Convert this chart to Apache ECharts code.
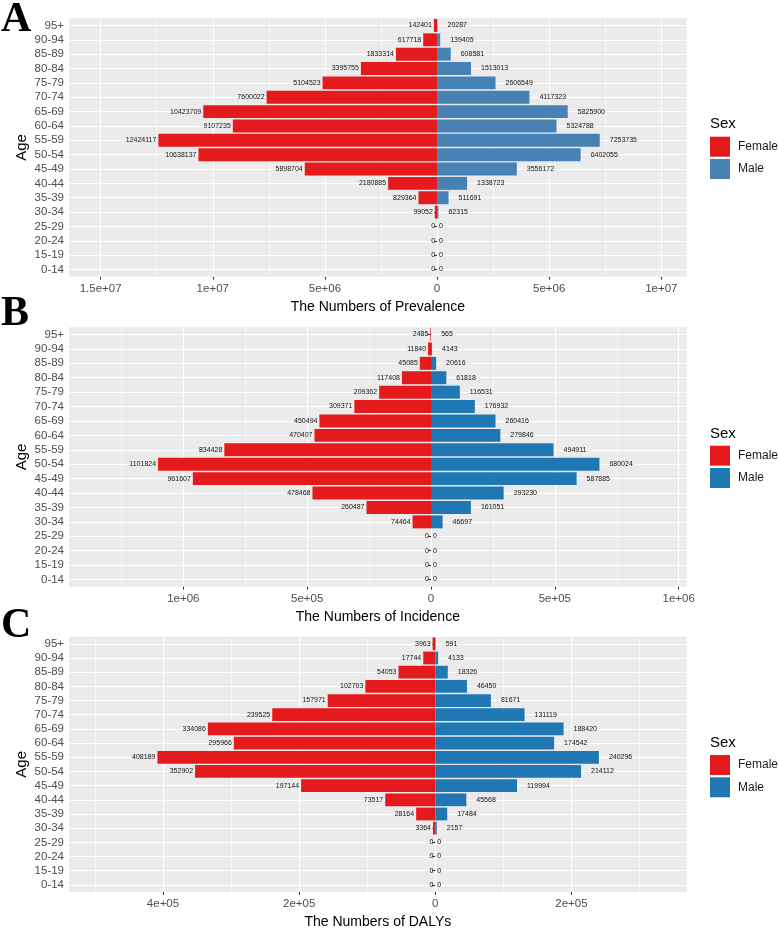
<!DOCTYPE html>
<html><head><meta charset="utf-8">
<script src="https://cdn.jsdelivr.net/npm/echarts@6/dist/echarts.min.js"></script>
<style>html,body{margin:0;padding:0;background:#fff}#c{width:778px;height:930px}</style>
</head><body><div id="c"></div>
<script>
// ---- data (rows listed top to bottom as in the figure) ----
const ages = ['95+','90-94','85-89','80-84','75-79','70-74','65-69','60-64','55-59','50-54','45-49','40-44','35-39','30-34','25-29','20-24','15-19','0-14'];
const prevFemale = [142401,617718,1833314,3395755,5104523,7600022,10423709,9107235,12424117,10638137,5898704,2180885,829364,99052,0,0,0,0];
const prevMale   = [20287,139405,608581,1513013,2606549,4117323,5825900,5324788,7253735,6402055,3556172,1338723,511691,62315,0,0,0,0];
const incFemale  = [2485,11840,45085,117408,209362,309371,450494,470407,834428,1101824,961607,478468,260487,74464,0,0,0,0];
const incMale    = [565,4143,20616,61818,116531,176932,260416,279846,494911,680024,587885,293230,161051,46697,0,0,0,0];
const dalyFemale = [3963,17744,54053,102703,157971,239525,334086,295966,408189,352902,197144,73517,28164,3364,0,0,0,0];
const dalyMale   = [591,4133,18326,46450,81671,131119,188420,174542,240296,214112,119994,45568,17484,2157,0,0,0,0];
const prevTicks  = [-1.5e7,-1e7,-5e6,0,5e6,1e7];
const prevMinor  = [-1.25e7,-7.5e6,-2.5e6,2.5e6,7.5e6];
const incTicks   = [-1e6,-5e5,0,5e5,1e6];
const incMinor   = [-1.25e6,-7.5e5,-2.5e5,2.5e5,7.5e5];
const dalyTicks  = [-4e5,-2e5,0,2e5];
const dalyMinor  = [-5e5,-3e5,-1e5,1e5,3e5];
const axisTitles = ['The Numbers of Prevalence','The Numbers of Incidence','The Numbers of DALYs'];
const panelLetters = ['A','B','C'];
const sexNames = ['Female','Male'];
const legendTitle = 'Sex';

// ---- layout / style ----
const FONT = "'Liberation Sans', Arial, sans-serif";
const RED = '#E41A1C';
const panels = [
  {female: prevFemale, male: prevMale, ticks: prevTicks, minor: prevMinor, min: -16.41e6, max: 11.13e6, top: 18.3, height: 258.4, maleColor: '#4682B4', legendTop: 136.7, sexTop: 116, letterTop: -1},
  {female: incFemale, male: incMale, ticks: incTicks, minor: incMinor, min: -1.4615e6, max: 1.0323e6, top: 327.3, height: 259.4, maleColor: '#1F78B4', legendTop: 445.7, sexTop: 426, letterTop: 293},
  {female: dalyFemale, male: dalyMale, ticks: dalyTicks, minor: dalyMinor, min: -5.381e5, max: 3.693e5, top: 636.7, height: 259.3, maleColor: '#1F78B4', legendTop: 755, sexTop: 735, letterTop: 605}
];

function fmtSci(v) {
  const a = Math.abs(v);
  if (a === 0) return '0';
  const e = Math.floor(Math.log10(a) + 1e-9);
  const m = +(a / Math.pow(10, e)).toFixed(2);
  return m + 'e+' + String(e).padStart(2, '0');
}

const grid = [], xAxis = [], yAxis = [], series = [], legend = [], title = [];
panels.forEach((p, i) => {
  grid.push({left: 69, width: 617.7, top: p.top, height: p.height, show: true, backgroundColor: '#EBEBEB', borderWidth: 0, containLabel: false});
  xAxis.push({
    gridIndex: i, type: 'value', min: p.min, max: p.max, position: 'bottom',
    axisLine: {show: false},
    axisTick: {show: true, customValues: p.ticks, length: 3, lineStyle: {color: '#333', width: 1}},
    axisLabel: {customValues: p.ticks, formatter: fmtSci, color: '#4D4D4D', fontSize: 11.5, margin: 6, fontFamily: FONT},
    splitLine: {show: true, lineStyle: {color: '#FFFFFF', width: 1.1}},
    name: axisTitles[i], nameLocation: 'middle', nameGap: 23,
    nameTextStyle: {color: '#000', fontSize: 14, fontFamily: FONT}
  });
  xAxis.push({
    gridIndex: i, type: 'value', min: p.min, max: p.max, position: 'bottom',
    axisLine: {show: false},
    axisTick: {show: false, customValues: p.minor},
    axisLabel: {show: false},
    splitLine: {show: true, lineStyle: {color: '#FFFFFF', width: 0.55}}
  });
  yAxis.push({
    gridIndex: i, type: 'category', data: ages, inverse: true,
    axisLine: {show: false},
    axisTick: {show: true, alignWithLabel: true, length: 3, lineStyle: {color: '#333'}},
    axisLabel: {color: '#4D4D4D', fontSize: 11.5, margin: 5, fontFamily: FONT, interval: 0},
    splitLine: {show: true, alignWithLabel: true, interval: 0, lineStyle: {color: '#FFFFFF', width: 1.1}},
    name: 'Age', nameLocation: 'middle', nameGap: 40, nameMoveOverlap: false,
    nameTextStyle: {color: '#000', fontSize: 15, fontFamily: FONT}
  });
  series.push({
    type: 'bar', name: sexNames[0], xAxisIndex: 2 * i, yAxisIndex: i, stack: 'p' + i, barWidth: '90%',
    data: p.female.map(v => -v),
    itemStyle: {color: RED},
    label: {show: true, position: 'left', distance: 2, formatter: d => String(Math.abs(d.value)), fontSize: 7, color: '#111', fontFamily: FONT}
  });
  series.push({
    type: 'bar', name: sexNames[1], xAxisIndex: 2 * i, yAxisIndex: i, stack: 'p' + i, barWidth: '90%',
    data: p.male.map(v => ({value: v, label: {distance: v === 0 ? 2 : 10}})),
    itemStyle: {color: p.maleColor},
    label: {show: true, position: 'right', formatter: d => String(d.value), fontSize: 7, color: '#111', fontFamily: FONT}
  });
  legend.push({
    left: 710, top: p.legendTop, orient: 'vertical', padding: 0, itemWidth: 20, itemHeight: 20, itemGap: 2.3,
    icon: 'rect', selectedMode: false,
    textStyle: {fontSize: 12, color: '#1a1a1a', fontFamily: FONT, padding: [0, 0, 0, 3]},
    data: [{name: sexNames[0], itemStyle: {color: RED}}, {name: sexNames[1], itemStyle: {color: p.maleColor}}]
  });
  title.push({text: legendTitle, left: 710, top: p.sexTop, padding: 0, textStyle: {fontSize: 15, fontWeight: 'normal', color: '#000', fontFamily: FONT}});
  title.push({text: panelLetters[i], left: 1, top: p.letterTop, padding: 0, textStyle: {fontSize: 42, fontWeight: 'bold', color: '#000', fontFamily: "'Liberation Serif', 'Times New Roman', serif"}});
});

const chart = echarts.init(document.getElementById('c'), null, {renderer: 'canvas'});
chart.setOption({animation: false, textStyle: {fontFamily: FONT}, grid, xAxis, yAxis, series, legend, title});
</script>
</body></html>
